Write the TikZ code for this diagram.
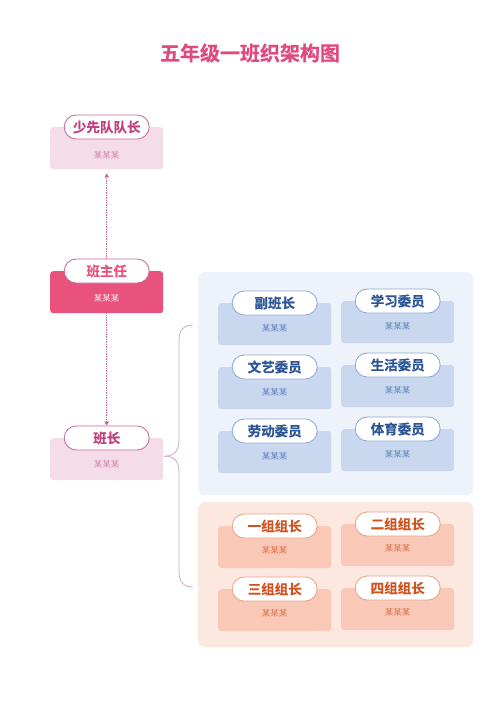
\documentclass[tikz,border=0pt]{standalone}
\usepackage{fontspec}
\setmainfont{Noto Sans CJK SC}
\newfontfamily\cjkb{Noto Sans CJK SC}[BoldFont={* Bold}, BoldFeatures={FakeBold=0.6}]
\usetikzlibrary{shapes.misc,arrows.meta}
\definecolor{titlec}{HTML}{DF4A7F}
\definecolor{pinklight}{HTML}{F5DCE9}
\definecolor{pinkdark}{HTML}{E9527D}
\definecolor{pinkline}{HTML}{C4679A}
\definecolor{pinktext}{HTML}{C2417E}
\definecolor{bluepanel}{HTML}{EEF2FA}
\definecolor{bluecardc}{HTML}{C9D8EE}
\definecolor{blueline}{HTML}{8EA8D2}
\definecolor{bluetext}{HTML}{2B5597}
\definecolor{bluename}{HTML}{5F80B8}
\definecolor{orpanel}{HTML}{FDE8E0}
\definecolor{orcardc}{HTML}{F9C8B6}
\definecolor{orline}{HTML}{E5A389}
\definecolor{ortext}{HTML}{D2521F}
\definecolor{orname}{HTML}{D9704A}
\definecolor{brack}{HTML}{D7A9BC}
\tikzset{
  card/.style={rounded corners=3pt, anchor=north west, minimum width=113pt, minimum height=42pt, inner sep=0pt},
  pillbase/.style={rounded rectangle, fill=white, line width=0.8pt, minimum width=85pt, minimum height=24pt, inner sep=0pt, font=\cjkb\bfseries\fontsize{13.5}{14}\selectfont},
  pinkpill/.style={pillbase, draw=pinkline, text=pinktext},
  bluepill/.style={pillbase, draw=blueline, text=bluetext},
  orpill/.style={pillbase, draw=orline, text=ortext},
  namebase/.style={font=\fontsize{8.5}{9}\selectfont, inner sep=0pt},
  pinkname/.style={namebase, text=pinkline!80},
  bluename/.style={namebase, text=bluename},
  orname/.style={namebase, text=orname},
  panel/.style={rounded corners=7pt, anchor=north west, inner sep=0pt, minimum width=275pt},
  dotarrow/.style={pinkline, densely dotted, line width=0.7pt, -{Triangle[length=4pt,width=4.5pt]}},
  bracketline/.style={brack, line width=0.8pt}
}
\begin{document}
\begin{tikzpicture}[x=1pt,y=-1pt]
\useasboundingbox (0,0) rectangle (500,707);
\fill[white] (0,0) rectangle (500,707);
\node[font=\cjkb\bfseries\fontsize{20}{22}\selectfont, text=titlec] (title) at (250,53) {五年级一班织架构图};

% left column
\node[card, fill=pinklight] (c0) at (50,127) {};
\node[pinkpill] (p0) at (c0.north) {少先队队长};
\node[pinkname] (n0) at (106.5,155) {某某某};

\node[card, fill=pinkdark] (c1) at (50,271) {};
\node[pillbase, draw=pinkline, text=pinkdark] (p1) at (c1.north) {班主任};
\node[namebase, text=white!88!pinkdark] (n1) at (106.5,298) {某某某};

\node[card, fill=pinklight] (c2) at (50,438) {};
\node[pinkpill] (p2) at (c2.north) {班长};
\node[pinkname] (n2) at (106.5,464) {某某某};

\draw[dotarrow] (p1.north) -- ([yshift=-4pt]c0.south);
\draw[dotarrow] (c1.south) -- (p2.north);

% panels
\node[panel, fill=bluepanel, minimum height=223pt] (bp) at (198,272) {};
\node[panel, fill=orpanel, minimum height=145pt] (op) at (198,502) {};

% bracket
\coordinate (bt) at (193,325);
\coordinate (bb) at (193,587);
\draw[bracketline] (c2.east) ++(1,-3) coordinate (bo)
  (bo) .. controls (173,456) and (179,452) .. (179,440) -- (179,340) .. controls (179,330) and (184,325) .. (bt);
\draw[bracketline] (bo) .. controls (173,456) and (179,460) .. (179,472) -- (179,572) .. controls (179,582) and (184,587) .. (bb);

% blue cards
\node[card, fill=bluecardc] (b1) at (218,303) {};
\node[bluepill] (bp1) at (b1.north) {副班长};
\node[bluename] (bn1) at (274.5,328) {某某某};
\node[card, fill=bluecardc] (b2) at (341,301) {};
\node[bluepill] (bp2) at (b2.north) {学习委员};
\node[bluename] (bn2) at (397.5,326) {某某某};

\node[card, fill=bluecardc] (b3) at (218,367) {};
\node[bluepill] (bp3) at (b3.north) {文艺委员};
\node[bluename] (bn3) at (274.5,392) {某某某};
\node[card, fill=bluecardc] (b4) at (341,365) {};
\node[bluepill] (bp4) at (b4.north) {生活委员};
\node[bluename] (bn4) at (397.5,390) {某某某};

\node[card, fill=bluecardc] (b5) at (218,431) {};
\node[bluepill] (bp5) at (b5.north) {劳动委员};
\node[bluename] (bn5) at (274.5,456) {某某某};
\node[card, fill=bluecardc] (b6) at (341,429) {};
\node[bluepill] (bp6) at (b6.north) {体育委员};
\node[bluename] (bn6) at (397.5,454) {某某某};

% orange cards
\node[card, fill=orcardc] (o1) at (218,526) {};
\node[orpill] (op1) at (o1.north) {一组组长};
\node[orname] (on1) at (274.5,550) {某某某};
\node[card, fill=orcardc] (o2) at (341,524) {};
\node[orpill] (op2) at (o2.north) {二组组长};
\node[orname] (on2) at (397.5,548) {某某某};

\node[card, fill=orcardc] (o3) at (218,589) {};
\node[orpill] (op3) at (o3.north) {三组组长};
\node[orname] (on3) at (274.5,613) {某某某};
\node[card, fill=orcardc] (o4) at (341,588) {};
\node[orpill] (op4) at (o4.north) {四组组长};
\node[orname] (on4) at (397.5,612) {某某某};
\end{tikzpicture}
\end{document}
